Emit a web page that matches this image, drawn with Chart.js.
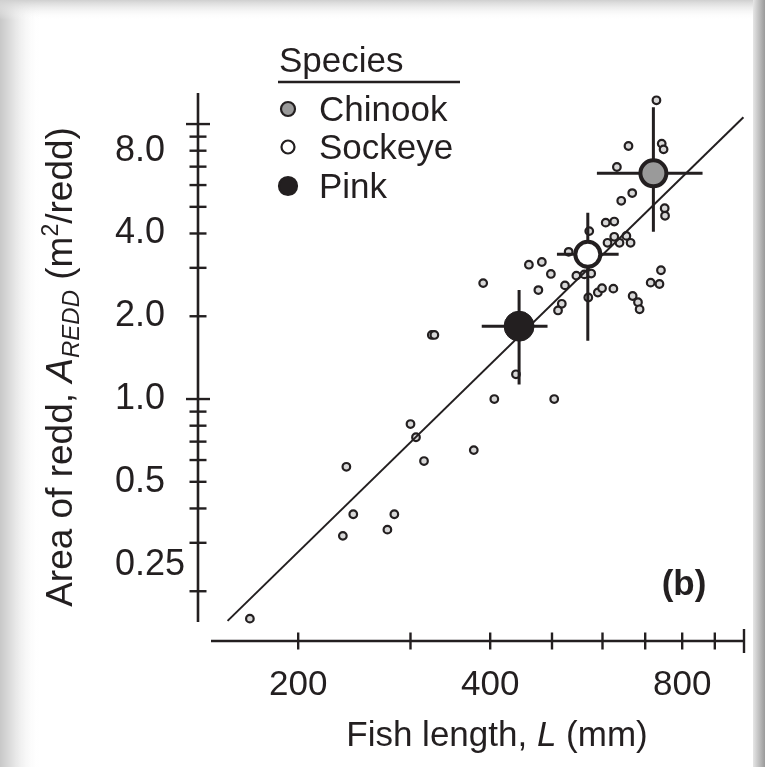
<!DOCTYPE html>
<html lang="en">
<head>
  <title>Redd area vs fish length</title>
  <script src="https://cdn.jsdelivr.net/npm/chart.js"></script>
  <style>
    html, body { margin: 0; padding: 0; background: #fff; }
    canvas { display: block; }
  </style>
</head>
<body>
<canvas id="reddChart" width="765" height="767"></canvas>
<script>
  // individual observations (fish length mm, redd area m2)
  const lengthMm = [729, 659, 743, 748, 632, 668, 642, 751, 752, 607, 626, 572, 626, 654, 611, 638, 664,
    531, 460, 482, 498, 546, 562, 576, 741, 714, 737, 390, 524, 476, 590, 599, 624, 570, 669, 682, 686,
    518, 511, 324, 327, 439, 406, 504, 300, 306, 377, 315, 238, 244, 283, 235, 276, 168];
  const reddArea = [12.2, 8.32, 8.49, 8.09, 6.98, 5.61, 5.26, 4.94, 4.64, 4.38, 4.42, 4.08, 3.89, 3.92, 3.70, 3.70, 3.70,
    3.43, 3.08, 3.15, 2.85, 2.81, 2.84, 2.86, 2.94, 2.65, 2.62, 2.64, 2.59, 2.49, 2.44, 2.53, 2.52, 2.34, 2.37, 2.25, 2.12,
    2.22, 2.10, 1.71, 1.71, 1.23, 1.00, 1.00, 0.811, 0.726, 0.652, 0.595, 0.567, 0.381, 0.381, 0.318, 0.335, 0.159];

  // species means with ranges
  const species = ['Chinook', 'Sockeye', 'Pink'];
  const meanLength = [721, 569, 444];
  const meanArea = [6.62, 3.36, 1.84];
  const lengthLow = [588, 509, 388];
  const lengthHigh = [861, 636, 492];
  const areaLow = [4.06, 1.63, 1.13];
  const areaHigh = [11.5, 4.76, 2.49];

  // fitted line end points
  const fitLength = [155, 998];
  const fitArea = [0.156, 10.58];

  const xTickMarks = [200, 300, 400, 500, 600, 700, 800, 900, 1000];
  const xLongMarks = [1000];
  const xLabels = [200, 400, 800];
  const xLabelText = ['200', '400', '800'];
  const yTickMarks = [0.2, 0.3, 0.4, 0.5, 0.6, 0.7, 0.8, 0.9, 1, 2, 3, 4, 5, 6, 7, 8, 9, 10];
  const yLongMarks = [1, 10];
  const yLabels = [0.25, 0.5, 1, 2, 4, 8];
  const yLabelText = ['0.25', '0.5', '1.0', '2.0', '4.0', '8.0'];

  const ink = '#231f20';
  const fillColors = ['#9a9a9a', '#ffffff', ink];
  const family = '"Liberation Sans", Arial, Helvetica, sans-serif';

  function drawRuns(ctx, runs, cx, baseline) {
    let total = 0;
    runs.forEach(r => { ctx.font = r.font; r.w = ctx.measureText(r.text).width; total += r.w; });
    let x = cx - total / 2;
    runs.forEach(r => {
      ctx.font = r.font;
      ctx.fillText(r.text, x, baseline + (r.dy || 0));
      x += r.w;
    });
  }

  const decorations = {
    id: 'decorations',
    beforeDraw(chart) {
      const ctx = chart.ctx;
      ctx.save();
      let g = ctx.createLinearGradient(0, 0, 40, 0);
      g.addColorStop(0, '#c8c8c8'); g.addColorStop(0.35, '#e4e4e4'); g.addColorStop(1, 'rgba(255,255,255,0)');
      ctx.fillStyle = g; ctx.fillRect(0, 0, 40, 767);
      g = ctx.createLinearGradient(0, 0, 0, 20);
      g.addColorStop(0, '#d0d0d0'); g.addColorStop(1, 'rgba(255,255,255,0)');
      ctx.fillStyle = g; ctx.fillRect(0, 0, 765, 20);
      g = ctx.createLinearGradient(753, 0, 765, 0);
      g.addColorStop(0, '#e6e6e6'); g.addColorStop(1, '#9a9a9a');
      ctx.fillStyle = g; ctx.fillRect(753, 0, 12, 767);
      ctx.restore();
    },
    beforeDatasetDraw(chart, args) {
      if (args.index !== 0) return;
      const {ctx, scales: {x, y}} = chart;
      ctx.save();
      ctx.strokeStyle = ink;
      ctx.lineWidth = 3;
      meanLength.forEach((v, i) => {
        const px = x.getPixelForValue(v), py = y.getPixelForValue(meanArea[i]);
        ctx.beginPath();
        ctx.moveTo(x.getPixelForValue(lengthLow[i]), py);
        ctx.lineTo(x.getPixelForValue(lengthHigh[i]), py);
        ctx.moveTo(px, y.getPixelForValue(areaLow[i]));
        ctx.lineTo(px, y.getPixelForValue(areaHigh[i]));
        ctx.stroke();
      });
      ctx.restore();
    },
    afterDraw(chart) {
      const {ctx, scales: {x, y}} = chart;
      ctx.save();
      ctx.strokeStyle = ink;
      ctx.fillStyle = ink;

      // y axis (range frame with crossing ticks)
      const ax = x.left - 13;
      ctx.lineWidth = 2.6;
      ctx.beginPath(); ctx.moveTo(ax, y.top); ctx.lineTo(ax, y.bottom - 6); ctx.stroke();
      ctx.lineWidth = 2.4;
      yTickMarks.forEach(v => {
        const p = y.getPixelForValue(v);
        const h = yLongMarks.includes(v) ? 12 : 8.5;
        ctx.beginPath(); ctx.moveTo(ax - h, p); ctx.lineTo(ax + h, p); ctx.stroke();
      });

      // x axis
      const ay = y.bottom + 13;
      ctx.lineWidth = 2.6;
      ctx.beginPath(); ctx.moveTo(x.left, ay); ctx.lineTo(x.right, ay); ctx.stroke();
      ctx.lineWidth = 2.4;
      xTickMarks.forEach(v => {
        const p = x.getPixelForValue(v);
        const h = xLongMarks.includes(v) ? 12 : 8.5;
        ctx.beginPath(); ctx.moveTo(p, ay - h); ctx.lineTo(p, ay + h); ctx.stroke();
      });

      // axis titles
      ctx.textBaseline = 'alphabetic';
      const big = '35px ' + family;
      drawRuns(ctx, [
        {text: 'Fish length, ', font: big},
        {text: 'L', font: 'italic ' + big},
        {text: ' (mm)', font: big}
      ], 497, 746);

      const ybig = '37px ' + family;
      ctx.save();
      ctx.translate(72, 367);
      ctx.rotate(-Math.PI / 2);
      drawRuns(ctx, [
        {text: 'Area of redd, ', font: ybig},
        {text: 'A', font: 'italic ' + ybig},
        {text: 'REDD', font: 'italic 24px ' + family, dy: 7},
        {text: ' (m', font: ybig},
        {text: '2', font: '23px ' + family, dy: -14},
        {text: '/redd)', font: ybig}
      ], 0, 0);
      ctx.restore();

      // panel tag
      ctx.font = 'bold 35px ' + family;
      ctx.textAlign = 'center';
      ctx.fillText('(b)', 684, 595);

      // legend
      ctx.textAlign = 'left';
      ctx.font = big;
      ctx.fillText('Species', 279, 72);
      ctx.lineWidth = 2.4;
      ctx.beginPath(); ctx.moveTo(278, 82); ctx.lineTo(460, 82); ctx.stroke();
      const rows = [109, 147, 186];
      const radii = [7, 6.5, 9];
      species.forEach((name, i) => {
        ctx.beginPath();
        ctx.arc(288, rows[i], radii[i], 0, Math.PI * 2);
        ctx.fillStyle = fillColors[i];
        ctx.fill();
        ctx.lineWidth = 2.2;
        ctx.stroke();
        ctx.fillStyle = ink;
        ctx.fillText(name, 319, rows[i] + 12);
      });
      ctx.restore();
    }
  };

  new Chart(document.getElementById('reddChart'), {
    type: 'scatter',
    data: {
      datasets: [
        {
          label: 'Species means',
          data: meanLength.map((v, i) => ({x: v, y: meanArea[i]})),
          backgroundColor: fillColors,
          borderColor: ink,
          borderWidth: [4, 4, 1],
          pointRadius: [13, 12.5, 15]
        },
        {
          label: 'Fit',
          type: 'line',
          data: fitLength.map((v, i) => ({x: v, y: fitArea[i]})),
          borderColor: ink,
          borderWidth: 2,
          pointRadius: 0,
          fill: false,
          clip: false
        },
        {
          label: 'Redds',
          data: lengthMm.map((v, i) => ({x: v, y: reddArea[i]})),
          backgroundColor: '#d8d8d8',
          borderColor: ink,
          borderWidth: 2.2,
          pointRadius: 3.8
        }
      ]
    },
    options: {
      responsive: false,
      animation: false,
      layout: {padding: {left: 115, top: 93, right: 21, bottom: 0}},
      plugins: {legend: {display: false}, tooltip: {enabled: false}},
      scales: {
        x: {
          type: 'logarithmic',
          min: 146,
          max: 1000,
          grid: {display: false, drawTicks: false},
          border: {display: false},
          afterBuildTicks: s => { s.ticks = xLabels.map(v => ({value: v})); },
          afterFit: s => { s.height = 139; },
          ticks: {
            padding: 36,
            color: ink,
            font: {family: family, size: 35},
            maxRotation: 0,
            autoSkip: false,
            callback: (v, i) => xLabelText[i]
          }
        },
        y: {
          type: 'logarithmic',
          min: 0.147,
          max: 12.97,
          grid: {display: false, drawTicks: false},
          border: {display: false},
          afterBuildTicks: s => { s.ticks = yLabels.map(v => ({value: v})); },
          afterFit: s => { s.width = 96; },
          ticks: {
            crossAlign: 'far',
            color: ink,
            font: {family: family, size: 36},
            autoSkip: false,
            callback: (v, i) => yLabelText[i]
          }
        }
      }
    },
    plugins: [decorations]
  });
</script>
</body>
</html>
